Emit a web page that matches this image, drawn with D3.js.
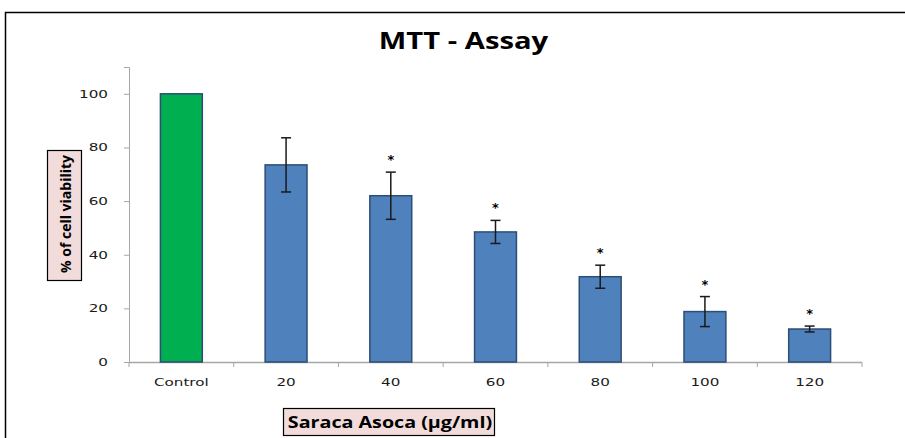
<!DOCTYPE html>
<html>
<head>
<meta charset="utf-8">
<script src="https://cdn.jsdelivr.net/npm/d3@7"></script>
<style>
  body { margin: 0; background: #fff; }
  svg { display: block; }
</style>
</head>
<body>
<div id="app"></div>
<script>
const categories = ["Control", "20", "40", "60", "80", "100", "120"];
const viability = [100, 73.5, 62, 48.5, 31.8, 18.8, 12.3];
const errors = [0, 10.1, 8.8, 4.3, 4.3, 5.6, 1.1];
const significant = [false, false, true, true, true, true, true];
const yTicks = [0, 20, 40, 60, 80, 100];

const width = 905;
const height = 438;

const plotLeft = 129;
const plotRight = 862;
const plotTop = 67;
const plotBottom = 362;

// the original picture is stretched sideways, so widen horizontal text
function stretch(sel, factor) {
    sel.each(function () {
        const len = this.getComputedTextLength();
        d3.select(this)
            .attr("textLength", len * factor)
            .attr("lengthAdjust", "spacingAndGlyphs");
    });
}

const svg = d3.select("#app")
    .append("svg")
    .attr("width", width)
    .attr("height", height);

// outer frame
svg.append("rect")
    .attr("x", 5.5)
    .attr("y", 12.5)
    .attr("width", width + 10)
    .attr("height", height + 10)
    .style("fill", "none")
    .style("stroke", "#000")
    .style("stroke-width", 1.5);

// title
svg.append("text")
    .attr("x", 463.5)
    .attr("y", 48.5)
    .attr("text-anchor", "middle")
    .style("font-family", "'Open Sans', sans-serif")
    .style("font-weight", "bold")
    .style("font-size", "23px")
    .text("MTT - Assay")
    .call(stretch, 1.27);

const x = d3.scaleBand()
    .domain(categories)
    .range([plotLeft, plotRight])
    .paddingInner(0.6)
    .paddingOuter(0.3);

const y = d3.scaleLinear()
    .domain([0, 110])
    .range([plotBottom, plotTop]);

// y axis
const yAxis = svg.append("g")
    .attr("transform", "translate(" + plotLeft + ",0)")
    .call(d3.axisLeft(y).tickValues(yTicks).tickSize(5).tickPadding(16));
yAxis.select(".domain").style("stroke", "#a6a6a6");
yAxis.selectAll(".tick line").style("stroke", "#a6a6a6");
yAxis.selectAll(".tick text")
    .style("font-family", "'DejaVu Sans', Verdana, sans-serif")
    .style("font-size", "11px")
    .style("fill", "#1a1a1a")
    .call(stretch, 1.38);

// x axis with ticks at band boundaries
const boundaries = d3.range(categories.length + 1).map(function (i) {
    return plotLeft + i * (plotRight - plotLeft) / categories.length;
});
svg.append("line")
    .attr("x1", plotLeft)
    .attr("x2", plotRight)
    .attr("y1", plotBottom + 0.5)
    .attr("y2", plotBottom + 0.5)
    .style("stroke", "#a6a6a6")
    .style("stroke-width", 1.5);
svg.selectAll(".xtick")
    .data(boundaries)
    .enter()
    .append("line")
    .attr("class", "xtick")
    .attr("x1", function (d) { return d; })
    .attr("x2", function (d) { return d; })
    .attr("y1", plotBottom)
    .attr("y2", plotBottom + 5)
    .style("stroke", "#a6a6a6");
svg.selectAll(".xlabel")
    .data(categories)
    .enter()
    .append("text")
    .attr("class", "xlabel")
    .attr("x", function (d) { return x(d) + x.bandwidth() / 2; })
    .attr("y", plotBottom + 24)
    .attr("text-anchor", "middle")
    .style("font-family", "'DejaVu Sans', Verdana, sans-serif")
    .style("font-size", "11px")
    .style("fill", "#1a1a1a")
    .text(function (d) { return d; })
    .call(stretch, 1.38);

// bars
svg.selectAll(".bar")
    .data(categories)
    .enter()
    .append("rect")
    .attr("class", "bar")
    .attr("x", function (d) { return x(d); })
    .attr("y", function (d, i) { return y(viability[i]); })
    .attr("width", x.bandwidth())
    .attr("height", function (d, i) { return plotBottom - y(viability[i]); })
    .style("fill", function (d, i) { return i === 0 ? "#00b050" : "#4f81bd"; })
    .style("stroke", "#2c4d75")
    .style("stroke-width", 1.5);

// error bars
const errCats = categories.filter(function (d, i) { return errors[i] > 0; });
svg.selectAll(".err")
    .data(errCats)
    .enter()
    .append("g")
    .attr("class", "err")
    .each(function (d) {
        const i = categories.indexOf(d);
        const cx = x(d) + x.bandwidth() / 2;
        const g = d3.select(this);
        const hi = y(viability[i] + errors[i]);
        const lo = y(viability[i] - errors[i]);
        g.append("line").attr("x1", cx).attr("x2", cx).attr("y1", hi).attr("y2", lo);
        g.append("line").attr("x1", cx - 5).attr("x2", cx + 5).attr("y1", hi).attr("y2", hi);
        g.append("line").attr("x1", cx - 5).attr("x2", cx + 5).attr("y1", lo).attr("y2", lo);
        g.selectAll("line").style("stroke", "#1a1a1a").style("stroke-width", 1.5);
    });

// significance stars
svg.selectAll(".star")
    .data(categories.filter(function (d, i) { return significant[i]; }))
    .enter()
    .append("text")
    .attr("class", "star")
    .attr("x", function (d) { return x(d) + x.bandwidth() / 2; })
    .attr("y", function (d) {
        const i = categories.indexOf(d);
        return y(viability[i] + errors[i]) - 8;
    })
    .attr("text-anchor", "middle")
    .style("font-family", "'DejaVu Sans', sans-serif")
    .style("font-weight", "bold")
    .style("font-size", "13px")
    .text("*");

// y axis title box
svg.append("rect")
    .attr("x", 47.5)
    .attr("y", 150.5)
    .attr("width", 34)
    .attr("height", 130)
    .style("fill", "#f2dcdb")
    .style("stroke", "#000")
    .style("stroke-width", 1.2);
svg.append("text")
    .attr("transform", "translate(70.5,214) rotate(-90)")
    .attr("text-anchor", "middle")
    .style("font-family", "'Open Sans', sans-serif")
    .style("font-weight", "bold")
    .style("font-size", "14px")
    .text("% of cell viability");

// x axis title box
svg.append("rect")
    .attr("x", 283.5)
    .attr("y", 408.5)
    .attr("width", 211)
    .attr("height", 27)
    .style("fill", "#f2dcdb")
    .style("stroke", "#000")
    .style("stroke-width", 1.2);
svg.append("text")
    .attr("x", 390)
    .attr("y", 427.5)
    .attr("text-anchor", "middle")
    .style("font-family", "'Open Sans', sans-serif")
    .style("font-weight", "bold")
    .style("font-size", "16px")
    .text("Saraca Asoca (µg/ml)")
    .call(stretch, 1.23);
</script>
</body>
</html>
